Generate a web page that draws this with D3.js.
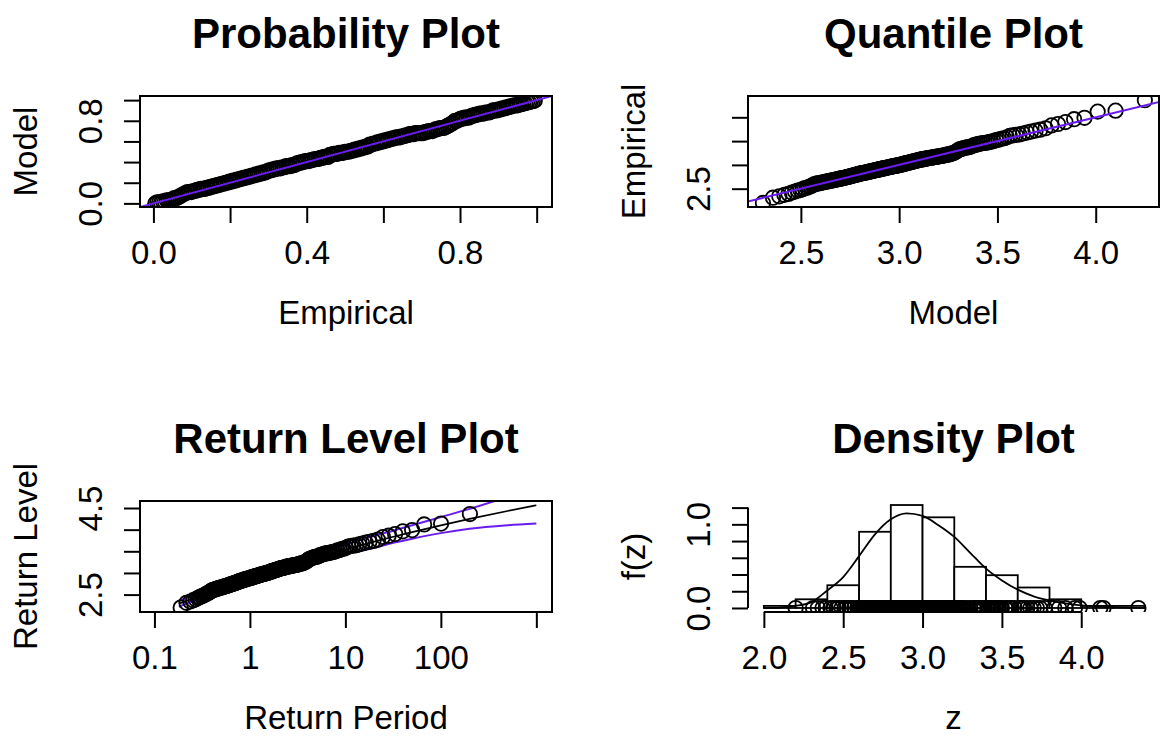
<!DOCTYPE html>
<html>
<head>
<meta charset="utf-8">
<script src="https://cdn.jsdelivr.net/npm/d3@7"></script>
<style>
body { margin: 0; background: #fff; }
svg text { font-family: "Liberation Sans", Arial, sans-serif; }
</style>
</head>
<body>
<svg id="chart" width="1160" height="736"></svg>
<script>
// GEV fit diagnostics (4 panels)

var empirical = [2.20,2.31,2.34,2.37,2.39,2.42,2.44,2.46,2.47,2.49,
  2.51,2.52,2.54,2.55,2.57,2.59,2.60,2.61,2.61,2.62,
  2.63,2.63,2.64,2.65,2.65,2.66,2.66,2.67,2.67,2.68,
  2.68,2.69,2.69,2.70,2.70,2.71,2.71,2.72,2.72,2.73,
  2.73,2.74,2.74,2.75,2.75,2.76,2.76,2.77,2.77,2.78,
  2.78,2.79,2.79,2.80,2.80,2.81,2.81,2.82,2.82,2.83,
  2.83,2.83,2.84,2.84,2.85,2.85,2.85,2.86,2.86,2.87,
  2.87,2.87,2.88,2.88,2.89,2.89,2.89,2.90,2.90,2.91,
  2.91,2.91,2.92,2.92,2.93,2.93,2.93,2.94,2.94,2.95,
  2.95,2.95,2.96,2.96,2.97,2.97,2.97,2.98,2.98,2.98,
  2.99,2.99,2.99,3.00,3.00,3.01,3.01,3.02,3.02,3.03,
  3.03,3.04,3.04,3.05,3.05,3.06,3.06,3.07,3.07,3.08,
  3.08,3.09,3.09,3.10,3.10,3.11,3.11,3.12,3.12,3.12,
  3.13,3.13,3.14,3.14,3.15,3.15,3.15,3.16,3.16,3.17,
  3.17,3.17,3.18,3.18,3.19,3.19,3.19,3.20,3.21,3.21,
  3.22,3.22,3.23,3.24,3.25,3.26,3.28,3.30,3.32,3.33,
  3.34,3.35,3.36,3.37,3.37,3.38,3.39,3.41,3.42,3.43,
  3.44,3.45,3.46,3.46,3.47,3.48,3.49,3.50,3.52,3.53,
  3.55,3.56,3.58,3.61,3.62,3.63,3.64,3.66,3.68,3.70,
  3.72,3.74,3.77,3.83,3.86,3.90,3.96,3.99,4.12,4.14,
  4.36];

// model quantiles, x of the quantile plot
var modelQuantile = [2.307,2.358,2.390,2.416,2.437,2.454,2.470,2.484,2.497,2.509,
  2.520,2.531,2.541,2.550,2.559,2.567,2.575,2.583,2.591,2.599,
  2.606,2.613,2.620,2.627,2.634,2.640,2.646,2.652,2.658,2.664,
  2.670,2.676,2.681,2.687,2.692,2.697,2.703,2.708,2.714,2.719,
  2.724,2.729,2.734,2.739,2.744,2.749,2.753,2.758,2.762,2.767,
  2.772,2.776,2.781,2.786,2.790,2.795,2.799,2.804,2.808,2.813,
  2.817,2.822,2.826,2.831,2.835,2.839,2.843,2.848,2.852,2.856,
  2.860,2.865,2.869,2.874,2.878,2.882,2.886,2.891,2.895,2.899,
  2.903,2.908,2.912,2.917,2.921,2.925,2.929,2.933,2.938,2.942,
  2.946,2.951,2.955,2.959,2.964,2.968,2.972,2.977,2.981,2.985,
  2.990,2.994,2.998,3.003,3.008,3.012,3.017,3.021,3.026,3.030,
  3.035,3.039,3.044,3.048,3.053,3.058,3.063,3.067,3.072,3.077,
  3.082,3.087,3.092,3.097,3.102,3.107,3.112,3.117,3.122,3.127,
  3.132,3.138,3.143,3.148,3.154,3.159,3.165,3.170,3.176,3.182,
  3.188,3.193,3.199,3.205,3.211,3.217,3.223,3.229,3.236,3.242,
  3.249,3.255,3.262,3.269,3.276,3.283,3.290,3.297,3.304,3.312,
  3.320,3.327,3.335,3.344,3.352,3.360,3.369,3.378,3.387,3.396,
  3.406,3.416,3.426,3.436,3.447,3.458,3.469,3.481,3.493,3.506,
  3.520,3.534,3.548,3.563,3.578,3.594,3.612,3.630,3.650,3.671,
  3.694,3.718,3.745,3.775,3.808,3.846,3.890,3.943,4.010,4.101,
  4.250];

// model probabilities, y of the probability plot
var modelProb = [0.00,0.01,0.01,0.01,0.02,0.02,0.03,0.03,0.03,0.04,
  0.05,0.05,0.06,0.07,0.08,0.09,0.10,0.11,0.11,0.11,
  0.12,0.12,0.13,0.13,0.14,0.14,0.14,0.15,0.15,0.16,
  0.16,0.17,0.17,0.18,0.18,0.19,0.19,0.20,0.20,0.21,
  0.21,0.22,0.22,0.23,0.23,0.24,0.24,0.25,0.25,0.26,
  0.26,0.27,0.27,0.28,0.28,0.29,0.29,0.30,0.30,0.31,
  0.32,0.32,0.33,0.33,0.34,0.34,0.34,0.35,0.35,0.36,
  0.36,0.36,0.37,0.37,0.38,0.39,0.39,0.40,0.40,0.41,
  0.41,0.41,0.42,0.42,0.43,0.43,0.43,0.44,0.44,0.45,
  0.45,0.45,0.47,0.47,0.48,0.48,0.48,0.49,0.49,0.49,
  0.50,0.50,0.50,0.51,0.51,0.52,0.52,0.53,0.53,0.54,
  0.54,0.55,0.55,0.57,0.57,0.58,0.58,0.59,0.59,0.60,
  0.60,0.61,0.61,0.62,0.62,0.63,0.63,0.64,0.64,0.64,
  0.65,0.65,0.66,0.66,0.67,0.67,0.67,0.68,0.68,0.68,
  0.68,0.68,0.69,0.69,0.70,0.70,0.70,0.71,0.72,0.72,
  0.73,0.73,0.73,0.74,0.75,0.76,0.77,0.78,0.80,0.80,
  0.81,0.82,0.82,0.83,0.83,0.83,0.84,0.85,0.85,0.86,
  0.86,0.87,0.87,0.87,0.88,0.88,0.88,0.89,0.90,0.90,
  0.90,0.91,0.91,0.92,0.92,0.93,0.93,0.94,0.94,0.95,
  0.95,0.95,0.96,0.96,0.97,0.97,0.98,0.98,0.99,0.99,
  0.995];

// return level curve and confidence band
var rlPeriod = [0.18, 0.3, 0.5, 1, 2, 3, 5, 10, 20, 31, 50, 100, 200, 500, 1000];
var rlLevel  = [2.29, 2.47, 2.65, 2.875, 3.09, 3.21, 3.355, 3.544, 3.722, 3.83, 3.943, 4.10, 4.248, 4.432, 4.563];
var rlLower  = [2.22, 2.42, 2.60, 2.83, 3.04, 3.15, 3.28, 3.44, 3.58, 3.69, 3.79, 3.92, 4.02, 4.10, 4.14];
var rlUpper  = [2.36, 2.53, 2.70, 2.92, 3.14, 3.27, 3.43, 3.65, 3.86, 3.97, 4.10, 4.29, 4.48, 4.76, 4.99];

// histogram and fitted density
var histBreaks  = [2.0, 2.2, 2.4, 2.6, 2.8, 3.0, 3.2, 3.4, 3.6, 3.8, 4.0, 4.2, 4.4];
var histDensity = [0.025, 0.104, 0.272, 0.911, 1.231, 1.084, 0.492, 0.392, 0.245, 0.104, 0.025, 0.025];
var densZ = [2.0, 2.1, 2.2, 2.3, 2.4, 2.5, 2.6, 2.7, 2.8, 2.9, 3.0, 3.1, 3.2, 3.3, 3.4, 3.5, 3.6, 3.7, 3.8, 3.9, 4.0, 4.1, 4.2, 4.3, 4.4];
var densF = [0.0, 0.005, 0.025, 0.07, 0.21, 0.37, 0.62, 0.88, 1.06, 1.13, 1.10, 0.99, 0.85, 0.66, 0.47, 0.33, 0.22, 0.14, 0.09, 0.055, 0.03, 0.018, 0.01, 0.005, 0.002];

// ticks and labels
var probTicks = [0, 0.2, 0.4, 0.6, 0.8, 1.0];
var probXLabels = ['0.0', '', '0.4', '', '0.8', ''];
var probYLabels = ['0.0', '', '', '', '0.8', ''];
var qqXTicks = [2.5, 3.0, 3.5, 4.0];
var qqXLabels = ['2.5', '3.0', '3.5', '4.0'];
var qqYTicks = [2.5, 3.0, 3.5, 4.0];
var qqYLabels = ['2.5', '', '', ''];
var rlXTicks = [0.1, 1, 10, 100, 1000];
var rlXLabels = ['0.1', '1', '10', '100', ''];
var rlYTicks = [2.5, 3.0, 3.5, 4.0, 4.5];
var rlYLabels = ['2.5', '', '', '', '4.5'];
var dnXTicks = [2.0, 2.5, 3.0, 3.5, 4.0];
var dnXLabels = ['2.0', '2.5', '3.0', '3.5', '4.0'];
var dnYTicks = [0, 0.2, 0.4, 0.6, 0.8, 1.0, 1.2];
var dnYLabels = ['0.0', '', '', '', '', '1.0', ''];

var svg = d3.select('#chart');
var blue = '#6a1cf0';
var axisFont = 33, titleFont = 42;
var tickLen = 16;

// panel frames
var colL = [140, 552], colR = [748, 1159];
var rowT = [96, 207], rowB = [501, 612];

var n = empirical.length;
var pEmp = empirical.map((d, i) => (i + 1) / (n + 1));
var retPeriod = pEmp.map(p => -1 / Math.log(p));

function clipFor(id, xr, yr) {
  svg.append('clipPath').attr('id', id)
    .append('rect')
    .attr('x', xr[0]).attr('y', yr[0])
    .attr('width', xr[1] - xr[0]).attr('height', yr[1] - yr[0]);
  return svg.append('g').attr('clip-path', 'url(#' + id + ')');
}

function drawBox(xr, yr) {
  svg.append('rect')
    .attr('x', xr[0]).attr('y', yr[0])
    .attr('width', xr[1] - xr[0]).attr('height', yr[1] - yr[0])
    .attr('fill', 'none').attr('stroke', 'black').attr('stroke-width', 2);
}

function xAxis(scale, ticks, labels, y) {
  var g = svg.append('g')
    .attr('transform', 'translate(0,' + y + ')')
    .call(d3.axisBottom(scale).tickValues(ticks).tickSize(tickLen)
      .tickFormat((d, i) => labels[i]));
  g.select('.domain').remove();
  g.append('line')
    .attr('x1', scale(ticks[0])).attr('x2', scale(ticks[ticks.length - 1]))
    .attr('stroke', 'black').attr('stroke-width', 2);
  g.selectAll('.tick line').attr('stroke', 'black').attr('stroke-width', 2);
  g.selectAll('.tick text')
    .attr('y', 57).attr('dy', null)
    .attr('fill', 'black')
    .style('font-size', axisFont + 'px');
  return g;
}

function yAxis(scale, ticks, labels, x) {
  var g = svg.append('g')
    .attr('transform', 'translate(' + x + ',0)')
    .call(d3.axisLeft(scale).tickValues(ticks).tickSize(tickLen)
      .tickFormat((d, i) => labels[i]));
  g.select('.domain').remove();
  g.append('line')
    .attr('y1', scale(ticks[0])).attr('y2', scale(ticks[ticks.length - 1]))
    .attr('stroke', 'black').attr('stroke-width', 2);
  g.selectAll('.tick line').attr('stroke', 'black').attr('stroke-width', 2);
  g.selectAll('.tick text')
    .attr('x', null).attr('dy', null)
    .attr('text-anchor', 'middle')
    .attr('transform', 'translate(-38,0) rotate(-90)')
    .attr('fill', 'black')
    .style('font-size', axisFont + 'px');
  return g;
}

function labels(xr, yr, title, xlab, ylab) {
  var cx = (xr[0] + xr[1]) / 2, cy = (yr[0] + yr[1]) / 2;
  svg.append('text')
    .attr('x', cx).attr('y', yr[0] - 48)
    .attr('text-anchor', 'middle')
    .style('font-size', titleFont + 'px').style('font-weight', 'bold')
    .text(title);
  svg.append('text')
    .attr('x', cx).attr('y', yr[1] + 117)
    .attr('text-anchor', 'middle')
    .style('font-size', axisFont + 'px')
    .text(xlab);
  svg.append('text')
    .attr('transform', 'translate(' + (xr[0] - 103) + ',' + cy + ') rotate(-90)')
    .attr('text-anchor', 'middle')
    .style('font-size', axisFont + 'px')
    .text(ylab);
}

function circles(g, pts) {
  g.selectAll(null)
    .data(pts)
    .enter().append('circle')
      .attr('cx', d => d[0]).attr('cy', d => d[1])
      .attr('r', 7.2)
      .attr('fill', 'none').attr('stroke', 'black').attr('stroke-width', 1.8);
}

// Probability plot
var px = d3.scaleLinear().domain([-0.035, 1.04]).range(colL);
var py = d3.scaleLinear().domain([-0.035, 1.04]).range([rowT[1], rowT[0]]);
var g1 = clipFor('clip1', colL, rowT);
circles(g1, pEmp.map((p, i) => [px(p), py(modelProb[i])]));
g1.append('line')
  .attr('x1', px(-0.035)).attr('y1', py(-0.035))
  .attr('x2', px(1.04)).attr('y2', py(1.04))
  .attr('stroke', blue).attr('stroke-width', 2);
drawBox(colL, rowT);
xAxis(px, probTicks, probXLabels, rowT[1]);
yAxis(py, probTicks, probYLabels, colL[0]);
labels(colL, rowT, 'Probability Plot', 'Empirical', 'Model');

// Quantile plot
var qx = d3.scaleLinear().domain([2.231, 4.322]).range(colR);
var qy = d3.scaleLinear().domain([2.115, 4.448]).range([rowT[1], rowT[0]]);
var g2 = clipFor('clip2', colR, rowT);
circles(g2, modelQuantile.map((q, i) => [qx(q), qy(empirical[i])]));
g2.append('line')
  .attr('x1', qx(2.1)).attr('y1', qy(2.1))
  .attr('x2', qx(4.5)).attr('y2', qy(4.5))
  .attr('stroke', blue).attr('stroke-width', 2);
drawBox(colR, rowT);
xAxis(qx, qqXTicks, qqXLabels, rowT[1]);
yAxis(qy, qqYTicks, qqYLabels, colR[0]);
labels(colR, rowT, 'Quantile Plot', 'Model', 'Empirical');

// Return level plot
var rx = d3.scaleLog().domain([0.0706, 1459]).range(colL);
var ry = d3.scaleLinear().domain([2.098, 4.662]).range([rowB[1], rowB[0]]);
var g3 = clipFor('clip3', colL, rowB);
var rlLine = d3.line()
  .x((d, i) => rx(rlPeriod[i]))
  .y(d => ry(d))
  .curve(d3.curveMonotoneX);
[rlLower, rlUpper].forEach(function(band) {
  g3.append('path').datum(band).attr('d', rlLine)
    .attr('fill', 'none').attr('stroke', blue).attr('stroke-width', 2);
});
g3.append('path').datum(rlLevel).attr('d', rlLine)
  .attr('fill', 'none').attr('stroke', 'black').attr('stroke-width', 1.7);
circles(g3, retPeriod.map((t, i) => [rx(t), ry(empirical[i])]));
drawBox(colL, rowB);
xAxis(rx, rlXTicks, rlXLabels, rowB[1]);
yAxis(ry, rlYTicks, rlYLabels, colL[0]);
labels(colL, rowB, 'Return Level Plot', 'Return Period', 'Return Level');

// Density plot
var dx = d3.scaleLinear().domain([1.9, 4.49]).range(colR);
var dy = d3.scaleLinear().domain([-0.048, 1.279]).range([rowB[1], rowB[0]]);
var g4 = clipFor('clip4', colR, rowB);
g4.selectAll('rect.bar')
  .data(histDensity)
  .enter().append('rect')
    .attr('class', 'bar')
    .attr('x', (d, i) => dx(histBreaks[i]))
    .attr('width', (d, i) => dx(histBreaks[i + 1]) - dx(histBreaks[i]))
    .attr('y', d => dy(d))
    .attr('height', d => dy(0) - dy(d))
    .attr('fill', 'white').attr('stroke', 'black').attr('stroke-width', 1.8);
g4.append('path').datum(densF)
  .attr('d', d3.line().x((d, i) => dx(densZ[i])).y(d => dy(d)).curve(d3.curveMonotoneX))
  .attr('fill', 'none').attr('stroke', 'black').attr('stroke-width', 1.8);
circles(g4, empirical.map(z => [dx(z), dy(0)]));
xAxis(dx, dnXTicks, dnXLabels, rowB[1]);
yAxis(dy, dnYTicks, dnYLabels, colR[0]);
labels(colR, rowB, 'Density Plot', 'z', 'f(z)');
</script>
</body>
</html>
